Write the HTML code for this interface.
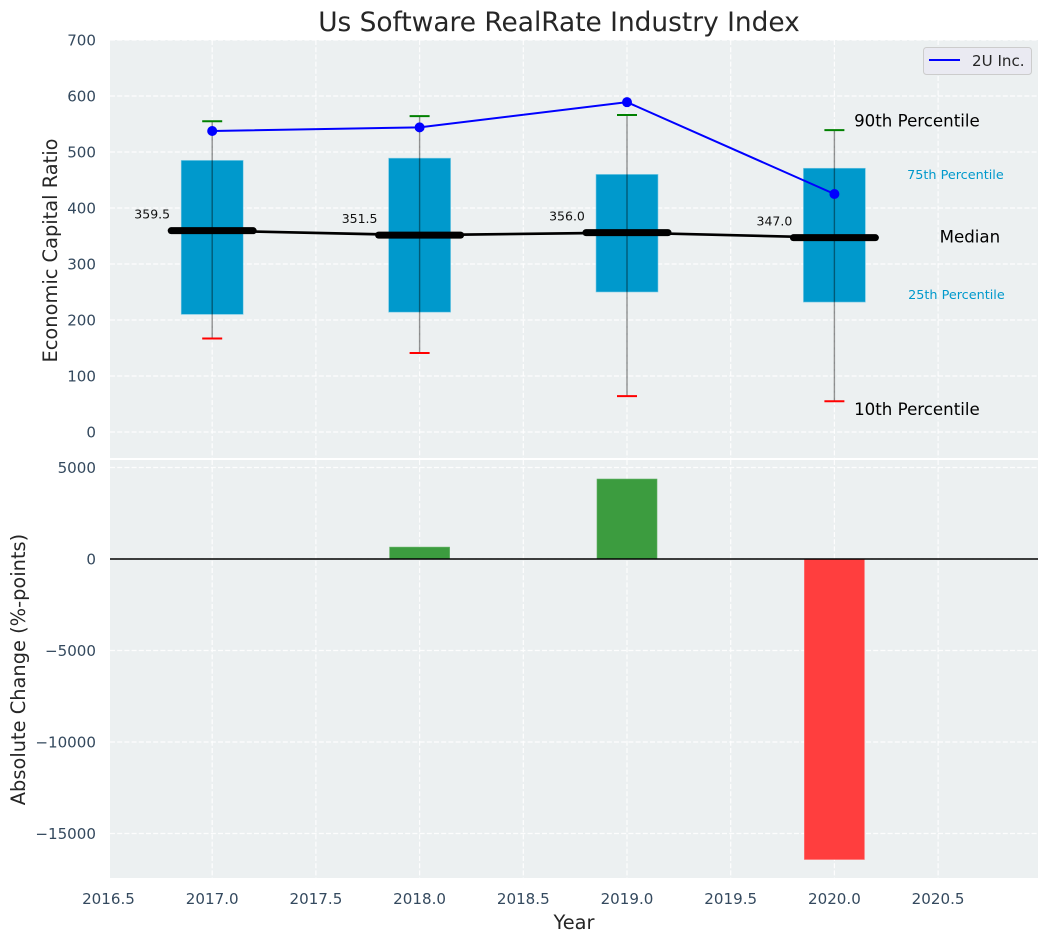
<!DOCTYPE html>
<html>
<head>
<meta charset="utf-8">
<title>Us Software RealRate Industry Index</title>
<style>
html,body{margin:0;padding:0;background:#fff;width:1048px;height:942px;overflow:hidden}
svg{display:block;font-family:"DejaVu Sans","Liberation Sans",sans-serif}
</style>
</head>
<body>
<svg id="chart" width="1048" height="942" viewBox="0 0 1048 942" xmlns="http://www.w3.org/2000/svg"></svg>
<script>
const years = [2017, 2018, 2019, 2020];
const p90 = [555, 564, 566, 539];
const p75 = [485, 489, 460, 471];
const medians = [359.5, 351.5, 356.0, 347.0];
const p25 = [210, 214, 250, 232];
const p10 = [167, 141, 64, 55];
const company = [537.5, 544, 589, 425];
const changes = [0, 650, 4370, -16420];
const xTicks = [2016.5, 2017.0, 2017.5, 2018.0, 2018.5, 2019.0, 2019.5, 2020.0, 2020.5];
const topTicks = [0, 100, 200, 300, 400, 500, 600, 700];
const bottomTicks = [5000, 0, -5000, -10000, -15000];

const NS = 'http://www.w3.org/2000/svg';
const svg = document.getElementById('chart');
const L = 110, R = 1038;
const x = v => 212.2 + (v - 2017) * 207.4;
const yTop = v => 432 - v * 0.56;
const yBot = v => 559 - v * 0.0183;
const tickColor = '#34495e';
const boxColor = '#0099cc';

function el(tag, props, parent) {
  const n = document.createElementNS(NS, tag);
  for (const k in props) n.setAttribute(k, props[k]);
  (parent || svg).appendChild(n);
  return n;
}
function label(str, props, parent) {
  const n = el('text', props, parent);
  n.textContent = str;
  return n;
}

const topPanel = el('rect', {x: L, y: 40, width: R - L, height: 418, fill: '#ecf0f1'});


const botPanel = el('rect', {x: L, y: 460, width: R - L, height: 418, fill: '#ecf0f1'});



const grid = {stroke: '#ffffff', 'stroke-width': 1.2, 'stroke-dasharray': '5 2.2', opacity: 0.9};

xTicks.forEach(t => {
  const g1 = el('line', Object.assign({x1: x(t), x2: x(t), y1: 40, y2: 458}, grid));
  
  
  const g2 = el('line', Object.assign({x1: x(t), x2: x(t), y1: 460, y2: 878}, grid));
  
  
  const lb = label(t.toFixed(1), {x: x(t), y: 904, 'text-anchor': 'middle', 'font-size': 15.1, fill: tickColor});
  
  
});

topTicks.forEach(t => {
  const g = el('line', Object.assign({x1: L, x2: R, y1: yTop(t), y2: yTop(t)}, grid));
  
  
  const lb = label(String(t), {x: 96, y: yTop(t) + 5.5, 'text-anchor': 'end', 'font-size': 15.1, fill: tickColor});
  
  
});

bottomTicks.forEach(t => {
  const g = el('line', Object.assign({x1: L, x2: R, y1: yBot(t), y2: yBot(t)}, grid));
  
  
  const lb = label(String(t).replace('-', '\u2212'), {x: 96, y: yBot(t) + 5.5, 'text-anchor': 'end', 'font-size': 15.1, fill: tickColor});
  
  
});

/* boxes */
years.forEach((yr, i) => {
  const hw = 31;
  const box = el('rect', {x: x(yr) - hw, y: yTop(p75[i]), width: hw * 2, height: yTop(p25[i]) - yTop(p75[i]), fill: boxColor, stroke: '#7fcce6', 'stroke-width': 0.6});
  
  
});

/* median connecting line */
const medLine = el('polyline', {points: years.map((yr, i) => x(yr) + ',' + yTop(medians[i])).join(' '), fill: 'none', stroke: '#000', 'stroke-width': 2.7});



years.forEach((yr, i) => {
  const w = el('line', {x1: x(yr), x2: x(yr), y1: yTop(p90[i]), y2: yTop(p10[i]), stroke: '#000', 'stroke-opacity': 0.42, 'stroke-width': 1.4});
  
  
  const capHi = el('line', {x1: x(yr) - 10, x2: x(yr) + 10, y1: yTop(p90[i]), y2: yTop(p90[i]), stroke: '#008000', 'stroke-width': 2});
  
  
  const capLo = el('line', {x1: x(yr) - 10, x2: x(yr) + 10, y1: yTop(p10[i]), y2: yTop(p10[i]), stroke: '#ff0000', 'stroke-width': 2});
  
  
  const med = el('line', {x1: x(yr) - 41, x2: x(yr) + 41, y1: yTop(medians[i]), y2: yTop(medians[i]), stroke: '#000', 'stroke-width': 7, 'stroke-linecap': 'round'});
  
  
  const txt = label(medians[i].toFixed(1), {x: x(yr) - 60, y: yTop(medians[i]) - 12, 'text-anchor': 'middle', 'font-size': 12.5, fill: '#111'});
  
  
});

/* company line */
const coLine = el('polyline', {points: years.map((yr, i) => x(yr) + ',' + yTop(company[i])).join(' '), fill: 'none', stroke: '#0000ff', 'stroke-width': 2});


years.forEach((yr, i) => {
  const c = el('circle', {cx: x(yr), cy: yTop(company[i]), r: 5, fill: '#0000ff'});
  
  
});

/* percentile annotations, anchored to the last category */
const last = years.length - 1;
const a90 = label('90th Percentile', {x: x(years[last]) + 19.7, y: yTop(p90[last]) - 3.5, 'font-size': 16.65, fill: '#000'});


const a75 = label('75th Percentile', {x: x(years[last]) + 72.7, y: yTop(p75[last]) + 11, 'font-size': 12.8, fill: boxColor});


const aMed = label('Median', {x: x(years[last]) + 105.2, y: yTop(medians[last]) + 5, 'font-size': 16.65, fill: '#000'});


const a25 = label('25th Percentile', {x: x(years[last]) + 73.7, y: yTop(p25[last]) - 3, 'font-size': 12.8, fill: boxColor});


const a10 = label('10th Percentile', {x: x(years[last]) + 19.7, y: yTop(p10[last]) + 14, 'font-size': 16.65, fill: '#000'});



/* change bars */
years.forEach((yr, i) => {
  const v = changes[i];
  const top = Math.min(yBot(v), yBot(0));
  const h = Math.abs(yBot(v) - yBot(0));
  const b = el('rect', {x: x(yr) - 30, y: top, width: 60, height: h, fill: v >= 0 ? '#3c9c3f' : '#ff3e3e', stroke: v >= 0 ? '#5fb062' : '#ff6a6a', 'stroke-width': 0.6});
  
  
});
const zero = el('line', {x1: L, x2: R, y1: yBot(0), y2: yBot(0), stroke: '#000', 'stroke-width': 1.5});



/* legend */
const legend = el('g', {});


const legBox = el('rect', {x: 923.5, y: 47.5, width: 108, height: 27, rx: 3, fill: '#eaeaf2', stroke: '#cccccc', 'stroke-width': 1}, legend);


const legLine = el('line', {x1: 929, x2: 960, y1: 60, y2: 60, stroke: '#0000ff', 'stroke-width': 2}, legend);


const legText = label('2U Inc.', {x: 972, y: 66, 'font-size': 15.1, fill: '#262626'}, legend);



/* titles */
const title = label('Us Software RealRate Industry Index', {x: 559, y: 31, 'text-anchor': 'middle', 'font-size': 26.4, fill: '#262626'});


const xTitle = label('Year', {x: 574, y: 929, 'text-anchor': 'middle', 'font-size': 19.4, fill: '#262626'});


const yTitleTop = label('Economic Capital Ratio', {x: 0, y: 0, transform: 'translate(57,250.5) rotate(-90)', 'text-anchor': 'middle', 'font-size': 19.4, fill: '#262626'});


const yTitleBot = label('Absolute Change (%-points)', {x: 0, y: 0, transform: 'translate(25,669.5) rotate(-90)', 'text-anchor': 'middle', 'font-size': 19.4, fill: '#262626'});


</script>
</body>
</html>
